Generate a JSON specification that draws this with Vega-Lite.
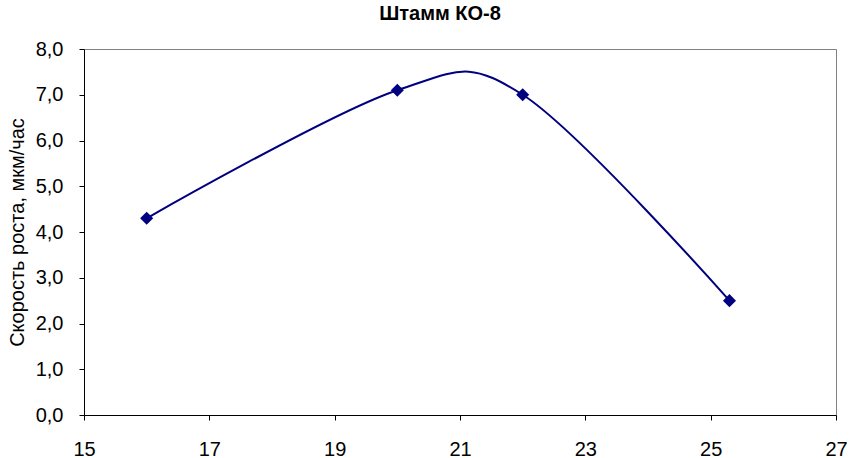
{
  "$schema": "https://vega.github.io/schema/vega-lite/v6.json",
  "width": 752,
  "height": 366,
  "autosize": {"type": "none"},
  "padding": {"left": 84, "top": 49, "right": 14, "bottom": 43},
  "background": "white",
  "config": {
    "font": "Liberation Sans",
    "view": {"stroke": "#808080", "strokeWidth": 1}
  },
  "title": {
    "text": "Штамм КО-8",
    "font": "Liberation Sans",
    "fontSize": 20,
    "fontWeight": "bold",
    "color": "#000000",
    "anchor": "middle",
    "frame": "group",
    "baseline": "bottom",
    "offset": -5,
    "dx": -20
  },
  "data": {
    "values": [
      {"t": 16, "v": 4.3},
      {"t": 20, "v": 7.1},
      {"t": 22, "v": 7.0},
      {"t": 25.3, "v": 2.5}
    ]
  },
  "encoding": {
    "x": {
      "field": "t",
      "type": "quantitative",
      "scale": {"domain": [15, 27], "nice": false, "zero": false},
      "axis": {
        "values": [15, 17, 19, 21, 23, 25, 27],
        "title": null,
        "grid": false,
        "domainColor": "#000000",
        "tickColor": "#000000",
        "tickSize": 5,
        "labelFontSize": 20,
        "labelColor": "#000000",
        "labelPadding": 19,
        "labelFlush": false
      }
    },
    "y": {
      "field": "v",
      "type": "quantitative",
      "scale": {"domain": [0, 8], "nice": false},
      "axis": {
        "values": [0, 1, 2, 3, 4, 5, 6, 7, 8],
        "labelExpr": "replace(format(datum.value, '.1f'), '.', ',')",
        "title": "Скорость роста, мкм/час",
        "titleFontSize": 20,
        "titleFontWeight": "normal",
        "titleColor": "#000000",
        "titlePadding": 8,
        "grid": false,
        "domainColor": "#000000",
        "tickColor": "#000000",
        "tickSize": 5,
        "labelFontSize": 20,
        "labelColor": "#000000",
        "labelPadding": 16,
        "labelFlush": false
      }
    }
  },
  "layer": [
    {
      "mark": {"type": "line", "interpolate": "cardinal", "tension": 0, "color": "#000080", "strokeWidth": 2}
    },
    {
      "mark": {"type": "point", "shape": "diamond", "filled": true, "color": "#000080", "size": 170, "opacity": 1}
    }
  ]
}
